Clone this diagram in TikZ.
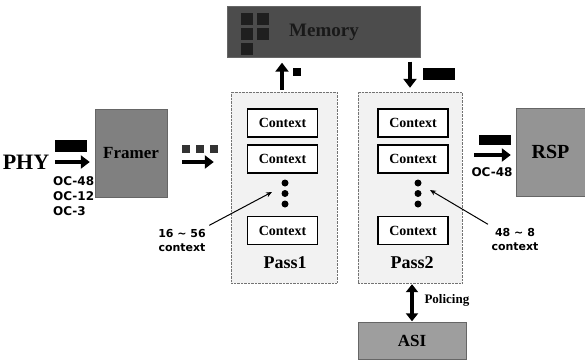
\documentclass[tikz,border=0pt]{standalone}
\usepackage{fontspec}
\setmainfont{Liberation Serif}
\newfontfamily\labelfont{DejaVu Sans}
\usetikzlibrary{arrows.meta, positioning}

\begin{document}
\begin{tikzpicture}[x=1pt, y=-1pt,
                block/.style={rectangle, draw=black!60, inner sep=0pt, font=\bfseries},
                pass/.style={rectangle, draw=black!55, densely dotted, fill=black!5, minimum width=106pt, minimum height=191pt},
                ctx/.style={rectangle, draw, line width=1.6pt, fill=white, minimum width=70pt, minimum height=28pt, font=\fontsize{14}{16}\selectfont\bfseries},
                fat/.style={line width=4pt, -{Triangle[length=9pt, width=13pt]}},
                twoway/.style={line width=4pt, {Triangle[length=8pt, width=12pt]}-{Triangle[length=8pt, width=12pt]}},
                pointer/.style={line width=1pt, -{Stealth[length=6pt, width=5pt]}},
                note/.style={font=\labelfont\bfseries\fontsize{11}{14}\selectfont, align=center},
                dot/.style={circle, fill=black, inner sep=0pt, minimum size=7pt}
            ]
                \useasboundingbox (0,0) rectangle (585,360);

                \node[block, fill=black!70, minimum width=193pt, minimum height=51pt, font=\fontsize{19}{21}\selectfont\bfseries, text=black!90] (memory) at (324,32) {Memory};
                \node[pass] (passA) at (284,187.5) {};
                \node[pass, minimum width=104pt] (passB) at (410,187.5) {};
                \node[ctx] (ctxA1) at (282.5,123) {Context};
                \node[ctx] (ctxA2) at (282.5,159) {Context};
                \node[ctx] (ctxA3) at (282.5,230.5) {Context};
                \node[ctx] (ctxB1) at (413,123) {Context};
                \node[ctx] (ctxB2) at (413,159) {Context};
                \node[ctx] (ctxB3) at (413,230.5) {Context};
                \foreach \i/\y in {1/183,2/193.5,3/204} {
                    \node[dot] (dotA\i) at (285,\y) {};
                    \node[dot] (dotB\i) at (418,\y) {};
                }
                \node[font=\fontsize{18}{20}\selectfont\bfseries] (labA) at (285,263) {Pass1};
                \node[font=\fontsize{18}{20}\selectfont\bfseries] (labB) at (412,263) {Pass2};
                \node[block, fill=black!50, minimum width=72pt, minimum height=88pt, font=\fontsize{17}{19}\selectfont\bfseries] (framer) at (131,153) {Framer};
                \node[block, fill=black!42, minimum width=69pt, minimum height=88pt, font=\fontsize{20}{22}\selectfont\bfseries] (rsp) at (550.5,152) {RSP};
                \node[block, fill=black!38, minimum width=108pt, minimum height=37pt, font=\fontsize{17}{19}\selectfont\bfseries] (asi) at (412,341) {ASI};
                \node[font=\fontsize{22}{24}\selectfont\bfseries] (phy) at (26,162) {PHY};
                \node[note, anchor=north west, align=left, inner sep=1pt, font=\labelfont\bfseries\fontsize{12}{15}\selectfont] (rates) at (52,175) {OC-48\\OC-12\\OC-3};
                \node[note, font=\labelfont\bfseries\fontsize{12}{15}\selectfont] (rateOut) at (492,172) {OC-48};
                \node[note] (noteA) at (182,240) {16 ∼ 56\\context};
                \node[note] (noteB) at (515,239) {48 ∼ 8\\context};
                \node[font=\fontsize{13}{15}\selectfont\bfseries, anchor=west] (policing) at (421,300) {Policing};

                \coordinate (laneA) at (0,162);
                \coordinate (laneB) at (0,155);
                \coordinate (tipA) at (272,192);
                \coordinate (tipB) at (430,190);

                \draw[fat, shorten <=2pt, shorten >=5pt] (phy.east) -- (phy.east -| framer.west);
                \draw[fat, shorten <=15pt, shorten >=17pt] (framer.east |- laneA) -- (passA.west |- laneA);
                \draw[fat, shorten <=12pt, shorten >=5pt] (passB.east |- laneB) -- (rsp.west |- laneB);
                \draw[fat, shorten <=2pt, shorten >=5pt] ([xshift=-2pt]passA.north) -- ([xshift=-2pt]passA.north |- memory.south);
                \draw[fat, shorten <=4pt, shorten >=4pt] (memory.south -| passB.north) -- (passB.north);
                \draw[twoway, shorten <=1pt, shorten >=1pt] (asi.north |- passB.south) -- (asi.north);
                \draw[pointer] (noteA.north east) -- (tipA);
                \draw[pointer] (noteB.north west) -- (tipB);

                \fill (55,140) rectangle (87,152);
                \fill (423,68) rectangle (455,80);
                \fill (479,135) rectangle (511,145);
                \foreach \x in {182,196,210}
                    \fill[black!80] (\x,145) rectangle ++(8,8);
                \fill (293,68) rectangle ++(8,8);
                \foreach \x/\y in {241/13,257/13,241/28,257/28,241/43}
                    \fill[black!88] (\x,\y) rectangle ++(12,12);
            \end{tikzpicture}
\end{document}
